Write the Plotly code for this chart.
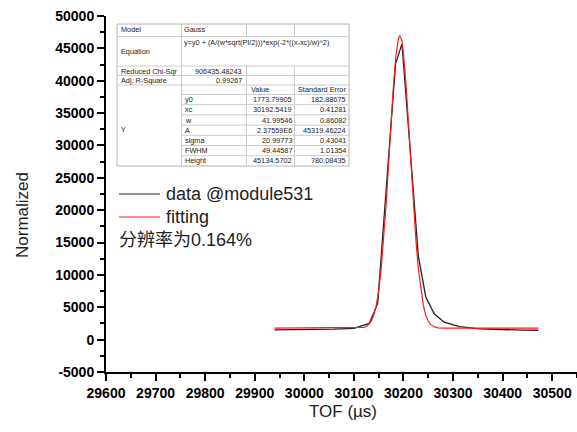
import plotly.graph_objects as go

# ---- data ----
data_x = [29940, 29980, 30020, 30060, 30100, 30131, 30148, 30167, 30184, 30197,
          30215, 30230, 30245, 30262, 30282, 30313, 30353, 30400, 30440, 30472]
data_y = [1500, 1520, 1560, 1620, 1750, 2500, 5600, 25000, 42600, 45700,
          28100, 12900, 6600, 4000, 2700, 2000, 1650, 1520, 1480, 1450]

fit_x = [29940, 30100, 30105, 30110, 30115, 30120, 30125, 30130, 30135, 30140, 30145,
         30150, 30155, 30160, 30165, 30170, 30175, 30180, 30185, 30188, 30190, 30192.5,
         30195, 30197, 30200, 30205, 30210, 30215, 30220, 30225, 30230, 30235, 30240, 30245,
         30250, 30255, 30260, 30265, 30270, 30275, 30280, 30285, 30472]
fit_y = [1774, 1777, 1782, 1794, 1823, 1890, 2030, 2309, 2830, 3746, 5252,
         7570, 10904, 15355, 20870, 27144, 33616, 39538, 44092, 46010, 46579, 46908,
         46599, 46110, 44146, 39619, 33716, 27248, 20965, 15436, 10963, 7614, 5282, 3765,
         2841, 2315, 2033, 1891, 1824, 1794, 1782, 1777, 1774]

x_ticks = [29600, 29700, 29800, 29900, 30000, 30100, 30200, 30300, 30400, 30500]
y_ticks = [-5000, 0, 5000, 10000, 15000, 20000, 25000, 30000, 35000, 40000, 45000, 50000]

series_names = ["data @module531", "fitting"]
series_colors = ["#222222", "#ff1a1a"]
note_text = "分辨率为0.164%"

table_head = [["Model", "Gauss"],
              ["Equation", "y=y0 + (A/(w*sqrt(PI/2)))*exp(-2*((x-xc)/w)^2)"],
              ["Reduced Chi-Sqr", "906435.48243"],
              ["Adj. R-Square", "0.99267"]]
param_names = ["y0", "xc", "w", "A", "sigma", "FWHM", "Height"]
param_values = ["1773.79905", "30192.5419", "41.99546", "2.37559E6", "20.99773", "49.44587", "45134.5702"]
param_errors = ["182.88675", "0.41281", "0.86082", "45319.46224", "0.43041", "1.01354", "780.08435"]

# ---- layout helpers (pixel -> paper) ----
W, H = 577, 432
L, R, T, B = 106, 577, 16, 372
def px(x):
    return (x - L) / (R - L)
def py(y):
    return (B - y) / (B - T)

FONT = "Liberation Sans, Arial, Noto Sans CJK SC, sans-serif"

fig = go.Figure()
fig.add_trace(go.Scatter(x=data_x, y=data_y, mode="lines", name=series_names[0],
                         line=dict(color=series_colors[0], width=1.3)))
fig.add_trace(go.Scatter(x=fit_x, y=fit_y, mode="lines", name=series_names[1],
                         line=dict(color=series_colors[1], width=1.2)))

shapes = []
annots = []

# table
tl, tr, tt, tb = 117, 349, 24, 166
c1, c2, c3 = 181.5, 246.5, 294.5
grid = "#cccccc"
shapes.append(dict(type="rect", xref="paper", yref="paper", x0=px(tl), x1=px(tr),
                   y0=py(tb), y1=py(tt), line=dict(color="#b4b4b4", width=1),
                   fillcolor="white", layer="above"))
def hline(y, x0, x1, color=grid, width=1):
    shapes.append(dict(type="line", xref="paper", yref="paper", x0=px(x0), x1=px(x1),
                       y0=py(y), y1=py(y), line=dict(color=color, width=width), layer="above"))
def vline(x, y0, y1):
    shapes.append(dict(type="line", xref="paper", yref="paper", x0=px(x), x1=px(x),
                       y0=py(y0), y1=py(y1), line=dict(color=grid, width=1), layer="above"))
for y in [36.5, 66, 75.5, 85]:
    hline(y, tl, tr)
row_h = 10.2
rows_top = 94.5
for i in range(len(param_names)):
    hline(rows_top + i * row_h, c1, tr)
vline(c1, tt, tb)
for c in [c2, c3]:
    vline(c, tt, 36.5)
    vline(c, 66, tb)

def txt(s, x, y, anchor="left", size=7.3):
    annots.append(dict(text=s, x=px(x), y=py(y), xref="paper", yref="paper",
                       xanchor=anchor, yanchor="middle", showarrow=False,
                       font=dict(family=FONT, size=size, color="#222222")))

head_y = [30, 51.5, 71, 80.5]
txt(table_head[0][0], 119, head_y[0]); txt(table_head[0][1], 182, head_y[0])
txt(table_head[1][0], 119, head_y[1]); txt(table_head[1][1], 182, 42.5)
txt(table_head[2][0], 119, head_y[2]); txt(table_head[2][1], 244, head_y[2], "right")
txt(table_head[3][0], 119, head_y[3]); txt(table_head[3][1], 244, head_y[3], "right")
txt("Value", 248.5, 89.5); txt("Standard Error", 348, 89.5, "right")
txt("Y", 119, 129.5)
for i, (n, v, e) in enumerate(zip(param_names, param_values, param_errors)):
    yc = rows_top + row_h * (i + 0.5)
    txt(n, 183, yc)
    txt(v, 293.5, yc, "right")
    txt(e, 348, yc, "right")

# legend (drawn by hand to match the original spacing)
leg_y = [194, 217]
for name, color, ly in zip(series_names, series_colors, leg_y):
    hline(ly, 119, 160, color=color, width=1.2)
    txt(name, 164, ly, size=18)
txt(note_text, 117, 240, size=18)

# axis titles
annots.append(dict(text="TOF (µs)", x=px(343), y=py(411), xref="paper", yref="paper",
                   xanchor="center", yanchor="middle", showarrow=False,
                   font=dict(family=FONT, size=17, color="#222222")))
annots.append(dict(text="Normalized", x=px(22), y=py(215), xref="paper", yref="paper",
                   xanchor="center", yanchor="middle", showarrow=False, textangle=-90,
                   font=dict(family=FONT, size=17, color="#222222")))

axis_common = dict(showgrid=False, zeroline=False, showline=True, linecolor="black",
                   linewidth=2, ticks="outside", ticklen=7, tickwidth=2, tickcolor="black",
                   automargin=False,
                   tickfont=dict(family=FONT, size=14, color="black", weight="bold"))
fig.update_xaxes(range=[29600, 30550], tickvals=x_ticks,
                 ticktext=[str(v) for v in x_ticks],
                 minor=dict(ticks="outside", ticklen=4, tickwidth=2, tickcolor="black", dtick=50,
                            tick0=29600),
                 **axis_common)
fig.update_yaxes(range=[-5000, 50000], tickvals=y_ticks,
                 ticktext=[str(v) for v in y_ticks],
                 minor=dict(ticks="outside", ticklen=4, tickwidth=2, tickcolor="black", dtick=2500,
                            tick0=0),
                 **axis_common)

fig.update_layout(
    width=W, height=H,
    margin=dict(l=L, r=W - R, t=T, b=H - B, autoexpand=False),
    paper_bgcolor="white", plot_bgcolor="white",
    shapes=shapes, annotations=annots,
    showlegend=False,
)

fig.write_html("out.html", config={"displayModeBar": False},
               post_script="document.body.style.margin='0px';document.body.style.overflow='hidden';")
